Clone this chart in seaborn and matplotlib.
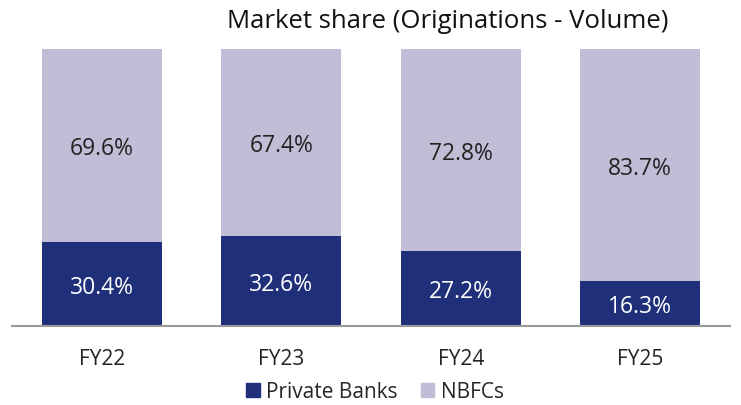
import matplotlib.pyplot as plt
import seaborn as sns
import pandas as pd
from matplotlib.patches import Patch

years = ['FY22', 'FY23', 'FY24', 'FY25']
private_banks = [30.4, 32.6, 27.2, 16.3]
nbfcs = [69.6, 67.4, 72.8, 83.7]

dark = '#1f2f7a'
light = '#c0bed6'

sns.set_style('white')
plt.rcParams['font.family'] = ['Open Sans', 'DejaVu Sans']

df = pd.DataFrame({'year': years, 'pb': private_banks, 'nb': nbfcs})
df['total'] = df['pb'] + df['nb']

fig = plt.figure(figsize=(7.41, 4.06), dpi=100)
ax = fig.add_axes([12 / 741, 1 - 327 / 406, 718 / 741, 277 / 406])

# stacked: full bar in light, private banks drawn over it
sns.barplot(data=df, x='year', y='total', color=light, width=0.67, saturation=1, linewidth=0, ax=ax)
sns.barplot(data=df, x='year', y='pb', color=dark, width=0.67, saturation=1, linewidth=0, ax=ax)

for i, (p, n) in enumerate(zip(private_banks, nbfcs)):
    ax.text(i, p / 2 - 1, '{:.1f}%'.format(p), ha='center', va='center', color='white', fontsize=16.5)
    ax.text(i, p + n / 2 - 1, '{:.1f}%'.format(n), ha='center', va='center', color='#222222', fontsize=16.5)

ax.set_ylim(0, 100)
ax.set_xlim(-0.5, 3.5)
ax.set_xlabel('')
ax.set_ylabel('')
ax.set_yticks([])
ax.tick_params(axis='x', length=0, labelsize=15, pad=16, colors='#222222')
for s in ['top', 'right', 'left']:
    ax.spines[s].set_visible(False)
ax.spines['bottom'].set_color('#9a9a9a')
ax.spines['bottom'].set_linewidth(1.5)

fig.text(448 / 741, 1 - 21 / 406, 'Market share (Originations - Volume)', ha='center', va='center',
         fontsize=18.5, color='#111111')

handles = [Patch(color=dark, label='Private Banks'), Patch(color=light, label='NBFCs')]
fig.legend(handles=handles, loc='center', bbox_to_anchor=(375 / 741, 1 - 393 / 406), ncol=2,
           frameon=False, fontsize=15, handlelength=0.65, handleheight=0.65, handletextpad=0.3,
           columnspacing=1.1)

fig.savefig('out.png', dpi=100)
